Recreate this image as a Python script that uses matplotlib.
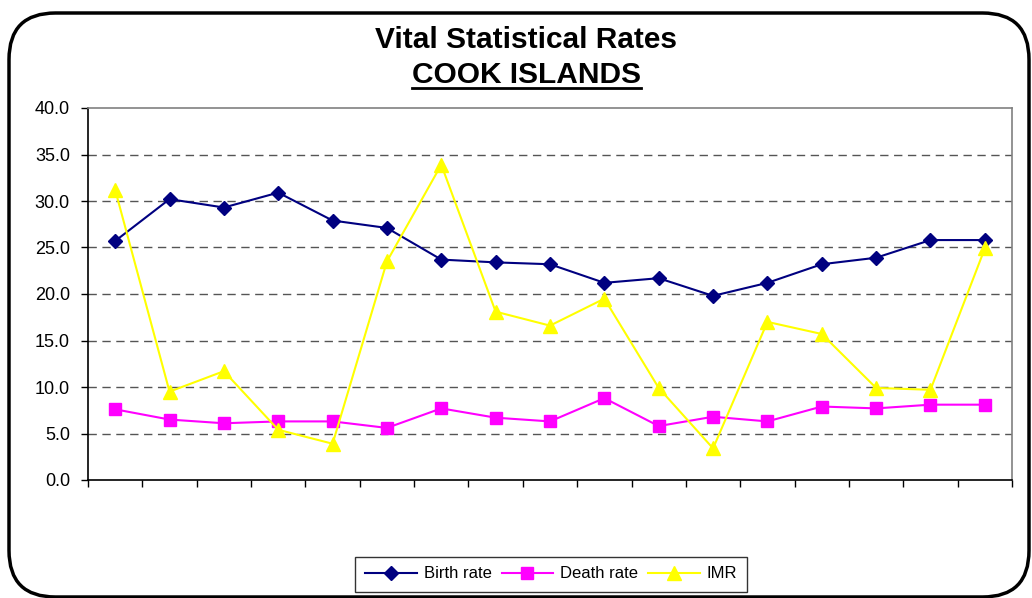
import numpy as np
import matplotlib
matplotlib.use("Agg")
import matplotlib.pyplot as plt
from matplotlib.patches import FancyBboxPatch
from matplotlib.lines import Line2D

plt.rcParams['font.family'] = ['Liberation Sans', 'DejaVu Sans']

birth_rate = [25.7, 30.2, 29.3, 30.9, 27.9, 27.1, 23.7, 23.4, 23.2, 21.2,
              21.7, 19.8, 21.2, 23.2, 23.9, 25.8, 25.8]
death_rate = [7.6, 6.5, 6.1, 6.3, 6.3, 5.6, 7.7, 6.7, 6.3, 8.8,
              5.8, 6.8, 6.3, 7.9, 7.7, 8.1, 8.1]
imr = [31.2, 9.5, 11.7, 5.4, 3.9, 23.5, 33.9, 18.1, 16.6, 19.5,
       9.9, 3.4, 17.0, 15.7, 9.9, 9.7, 24.9]
y_ticks = [0, 5, 10, 15, 20, 25, 30, 35, 40]

W, H = 1032, 598
fig = plt.figure(figsize=(W / 100, H / 100), dpi=100)

# rounded chart border
border = FancyBboxPatch((9 / W, 1 - 597 / H), 1020 / W, 584 / H,
                        boxstyle="round,pad=0,rounding_size=0.045",
                        transform=fig.transFigure, fill=False,
                        edgecolor='black', linewidth=2.5, mutation_aspect=W / H)
fig.patches.append(border)

ax = fig.add_axes([88 / W, 1 - 480 / H, (1012 - 88) / W, (480 - 108) / H])
x = np.arange(len(birth_rate)) + 0.5

ax.plot(x, birth_rate, color='#000080', marker='D', markersize=7.5, linewidth=1.5,
        label='Birth rate')
ax.plot(x, death_rate, color='#FF00FF', marker='s', markersize=8, linewidth=1.5,
        label='Death rate')
ax.plot(x, imr, color='#FFFF00', marker='^', markersize=10, linewidth=1.5,
        label='IMR')

ax.set_xlim(0, len(birth_rate))
ax.set_ylim(0, 40)
ax.set_yticks(y_ticks)
ax.set_yticklabels([f"{v:.1f}" for v in y_ticks], fontsize=13)
ax.set_xticks(np.arange(len(birth_rate) + 1))
ax.set_xticklabels([])
ax.tick_params(axis='both', direction='out', length=5, width=1, color='black')
ax.tick_params(axis='y', pad=8)

for v in y_ticks[1:-1]:
    ax.axhline(v, color='#555555', linestyle=(0, (6, 4)), linewidth=1, zorder=0)

ax.spines['left'].set_color('black')
ax.spines['bottom'].set_color('black')
ax.spines['top'].set_color('#808080')
ax.spines['right'].set_color('#808080')
for s in ax.spines.values():
    s.set_linewidth(1.2)

tx = 526 / W
fig.text(tx, 1 - 40 / H, "Vital Statistical Rates", ha='center', va='center',
         fontsize=21.5, fontweight='bold')
sub = fig.text(tx, 1 - 75 / H, "COOK ISLANDS", ha='center', va='center',
               fontsize=21.5, fontweight='bold')
fig.canvas.draw()
bb = sub.get_window_extent()
fig.add_artist(Line2D([bb.x0 / W, bb.x1 / W], [1 - 88 / H, 1 - 88 / H],
                      transform=fig.transFigure, color='black', linewidth=2))

leg = fig.legend(loc='center', bbox_to_anchor=(551 / W, 1 - 574 / H), ncol=3,
                 fontsize=12, frameon=True, fancybox=False, edgecolor='black',
                 handlelength=3.1, columnspacing=0.6, handletextpad=0.4,
                 borderpad=0.6)
leg.get_frame().set_linewidth(1)

fig.savefig("out.png", dpi=100)
